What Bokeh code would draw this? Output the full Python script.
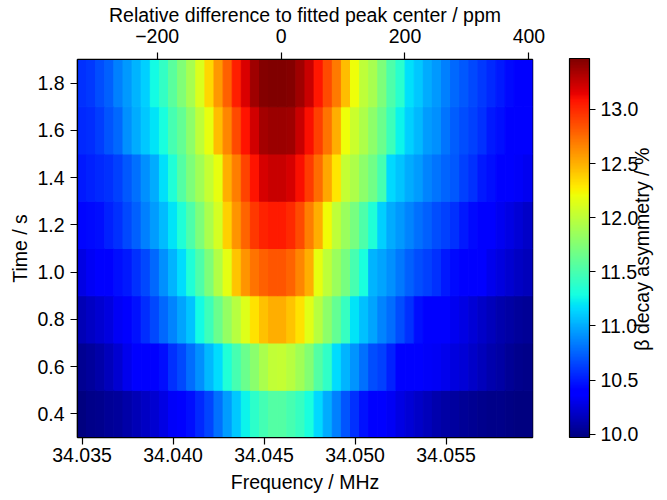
import math
import numpy as np
from bokeh.plotting import figure
from bokeh.models import (ColumnDataSource, LinearColorMapper, ColorBar, LinearAxis,
                          Range1d, FixedTicker, PrintfTickFormatter)
from bokeh.transform import transform
from bokeh.embed import file_html
from bokeh.resources import INLINE

# ---------------- data ----------------
freqs = [34.0350, 34.0355, 34.0360, 34.0365, 34.0370, 34.0375, 34.0380, 34.0385, 34.0390, 34.0395,
         34.0400, 34.0405, 34.0410, 34.0415, 34.0420, 34.0425, 34.0430, 34.0435, 34.0440, 34.0445,
         34.0450, 34.0455, 34.0460, 34.0465, 34.0470, 34.0475, 34.0480, 34.0485, 34.0490, 34.0495,
         34.0500, 34.0505, 34.0510, 34.0515, 34.0520, 34.0525, 34.0530, 34.0535, 34.0540, 34.0545,
         34.0550, 34.0555, 34.0560, 34.0565, 34.0570, 34.0575, 34.0580, 34.0585, 34.0590, 34.0595]
freq_step = 0.0005
times = [0.4, 0.6, 0.8, 1.0, 1.2, 1.4, 1.6, 1.8]
time_step = 0.2
peak_center = 34.045934  # MHz, fitted peak centre (0 ppm)

row_04 = [9.98, 10.00, 10.02, 10.04, 10.06, 10.10, 10.14, 10.18, 10.22, 10.28,
          10.35, 10.40, 10.45, 10.55, 10.65, 10.80, 10.95, 11.10, 11.25, 11.38,
          11.48, 11.55, 11.55, 11.50, 11.42, 11.30, 11.15, 11.00, 10.85, 10.70,
          10.58, 10.47, 10.42, 10.38, 10.33, 10.28, 10.23, 10.19, 10.15, 10.12,
          10.09, 10.07, 10.05, 10.03, 10.02, 10.01, 10.00, 9.99, 9.98, 9.98]
row_06 = [10.03, 10.06, 10.10, 10.16, 10.22, 10.30, 10.36, 10.41, 10.42, 10.45,
          10.58, 10.66, 10.78, 10.90, 11.04, 11.17, 11.33, 11.50, 11.65, 11.78,
          11.92, 12.02, 12.03, 11.97, 11.88, 11.76, 11.55, 11.40, 11.17, 11.03,
          10.92, 10.80, 10.68, 10.63, 10.52, 10.42, 10.40, 10.38, 10.35, 10.33,
          10.30, 10.27, 10.23, 10.20, 10.16, 10.12, 10.08, 10.05, 10.02, 10.00]
row_08 = [10.14, 10.18, 10.22, 10.27, 10.33, 10.40, 10.47, 10.56, 10.66, 10.77,
          10.87, 10.97, 11.08, 11.28, 11.46, 11.65, 11.82, 11.97, 12.14, 12.32,
          12.44, 12.50, 12.50, 12.43, 12.31, 12.15, 11.97, 11.80, 11.62, 11.43,
          11.20, 11.07, 10.97, 10.86, 10.78, 10.67, 10.58, 10.46, 10.42, 10.40,
          10.36, 10.32, 10.28, 10.24, 10.20, 10.16, 10.12, 10.09, 10.06, 10.04]
row_10 = [10.28, 10.33, 10.38, 10.42, 10.45, 10.50, 10.58, 10.66, 10.77, 10.90,
          11.03, 11.17, 11.33, 11.52, 11.72, 11.95, 12.16, 12.42, 12.60, 12.72,
          12.80, 12.83, 12.83, 12.78, 12.65, 12.50, 12.18, 12.00, 11.85, 11.70,
          11.50, 11.30, 11.03, 10.98, 10.90, 10.82, 10.74, 10.68, 10.63, 10.58,
          10.50, 10.44, 10.42, 10.40, 10.36, 10.30, 10.26, 10.22, 10.18, 10.15]
row_12 = [10.43, 10.44, 10.46, 10.52, 10.58, 10.66, 10.74, 10.85, 10.95, 11.06,
          11.20, 11.33, 11.52, 11.72, 11.92, 12.10, 12.38, 12.60, 12.78, 12.95,
          13.03, 13.05, 13.05, 13.00, 12.87, 12.68, 12.50, 12.22, 12.00, 11.85,
          11.70, 11.52, 11.33, 11.12, 11.00, 10.93, 10.87, 10.80, 10.74, 10.68,
          10.63, 10.58, 10.50, 10.44, 10.41, 10.36, 10.32, 10.28, 10.24, 10.20]
row_14 = [10.50, 10.52, 10.55, 10.58, 10.63, 10.72, 10.80, 10.90, 11.00, 11.18,
          11.33, 11.55, 11.73, 11.88, 12.03, 12.18, 12.50, 12.68, 12.90, 13.08,
          13.20, 13.25, 13.25, 13.20, 13.10, 12.93, 12.75, 12.53, 12.30, 12.03,
          11.93, 11.80, 11.67, 11.50, 11.15, 11.08, 11.00, 10.95, 10.87, 10.81,
          10.76, 10.72, 10.63, 10.58, 10.50, 10.45, 10.41, 10.38, 10.35, 10.32]
row_16 = [10.55, 10.57, 10.62, 10.70, 10.77, 10.90, 11.00, 11.10, 11.20, 11.30,
          11.50, 11.62, 11.80, 12.00, 12.18, 12.45, 12.66, 12.88, 13.08, 13.22,
          13.35, 13.38, 13.38, 13.37, 13.25, 13.10, 12.92, 12.72, 12.50, 12.20,
          12.05, 11.93, 11.80, 11.65, 11.45, 11.25, 11.12, 11.04, 10.95, 10.90,
          10.81, 10.73, 10.68, 10.63, 10.58, 10.50, 10.45, 10.40, 10.38, 10.36]
row_18 = [10.58, 10.60, 10.67, 10.74, 10.85, 10.94, 11.03, 11.12, 11.27, 11.41,
          11.58, 11.74, 11.90, 12.12, 12.35, 12.59, 12.79, 13.04, 13.19, 13.37,
          13.45, 13.47, 13.47, 13.45, 13.37, 13.25, 13.07, 12.87, 12.70, 12.45,
          12.20, 12.00, 11.90, 11.73, 11.52, 11.37, 11.18, 11.10, 11.00, 10.93,
          10.85, 10.77, 10.72, 10.66, 10.60, 10.55, 10.49, 10.44, 10.41, 10.40]
asym_rows = [row_04, row_06, row_08, row_10, row_12, row_14, row_16, row_18]

freq_ticks = [34.035, 34.040, 34.045, 34.050, 34.055]
time_ticks = [0.4, 0.6, 0.8, 1.0, 1.2, 1.4, 1.6, 1.8]
ppm_ticks = [-200, 0, 200, 400]
cbar_ticks = [10.0, 10.5, 11.0, 11.5, 12.0, 12.5, 13.0]
cbar_low, cbar_high = 9.97, 13.47
cbar_title = "\u03b2 decay asymmetry / %"

# ---------------- jet palette ----------------
def jet_palette(n=256):
    t = np.linspace(0, 1, n)
    r = np.interp(t, [0, 0.35, 0.66, 0.89, 1], [0, 0, 1, 1, 0.5])
    g = np.interp(t, [0, 0.125, 0.375, 0.64, 0.91, 1], [0, 0, 1, 1, 0, 0])
    b = np.interp(t, [0, 0.11, 0.34, 0.65, 1], [0.5, 1, 1, 0, 0])
    return ["#%02x%02x%02x" % (int(round(rr * 255)), int(round(gg * 255)), int(round(bb * 255)))
            for rr, gg, bb in zip(r, g, b)]

palette = jet_palette()

l, r_, b_, t_, vs = [], [], [], [], []
for t, row in zip(times, asym_rows):
    for f, v in zip(freqs, row):
        l.append(f - freq_step / 2)
        r_.append(f + freq_step / 2)
        b_.append(t - time_step / 2)
        t_.append(t + time_step / 2)
        vs.append(v)
source = ColumnDataSource(dict(left=l, right=r_, bottom=b_, top=t_, v=vs))

x_lo = freqs[0] - freq_step / 2
x_hi = freqs[-1] + freq_step / 2
y_lo = times[0] - time_step / 2
y_hi = times[-1] + time_step / 2

FONT = "Liberation Sans"
FS = "19.5px"
FRAME_W, FRAME_H = 456, 379

p = figure(width=667, height=500, x_range=Range1d(x_lo, x_hi), y_range=Range1d(y_lo, y_hi),
           output_backend="svg", toolbar_location=None,
           min_border_left=77, min_border_right=134, min_border_top=58, min_border_bottom=63)
p.grid.visible = False
p.outline_line_color = "black"
p.outline_line_width = 1.5
p.background_fill_color = "white"
p.border_fill_color = "white"

mapper = LinearColorMapper(palette=palette, low=cbar_low, high=cbar_high)
p.quad(left="left", right="right", bottom="bottom", top="top", source=source,
       fill_color=transform("v", mapper), line_color=transform("v", mapper), line_width=1.0)

def style_axis(ax, standoff, label_standoff):
    ax.axis_label_text_font = FONT
    ax.axis_label_text_font_size = FS
    ax.axis_label_text_font_style = "normal"
    ax.axis_label_text_color = "black"
    ax.major_label_text_font = FONT
    ax.major_label_text_font_size = FS
    ax.major_label_text_color = "black"
    ax.major_tick_out = 7
    ax.major_tick_in = 0
    ax.minor_tick_out = 0
    ax.minor_tick_in = 0
    ax.major_tick_line_color = "black"
    ax.major_tick_line_width = 1.2
    ax.axis_line_color = "black"
    ax.axis_line_width = 1.2
    ax.major_label_standoff = standoff
    ax.axis_label_standoff = label_standoff

xa = p.xaxis[0]
xa.ticker = FixedTicker(ticks=freq_ticks)
xa.formatter = PrintfTickFormatter(format="%.3f")
xa.axis_label = "Frequency / MHz"
style_axis(xa, 3, 6)

ya = p.yaxis[0]
ya.ticker = FixedTicker(ticks=time_ticks)
ya.formatter = PrintfTickFormatter(format="%.1f")
ya.axis_label = "Time / s"
style_axis(ya, 6, 3)

ppm_lo = (x_lo - peak_center) / peak_center * 1e6
ppm_hi = (x_hi - peak_center) / peak_center * 1e6
p.extra_x_ranges = {"ppm": Range1d(ppm_lo, ppm_hi)}
top = LinearAxis(x_range_name="ppm", ticker=FixedTicker(ticks=ppm_ticks),
                 axis_label="Relative difference to fitted peak center / ppm",
                 major_label_overrides={t: (("\u2212%d" % -t) if t < 0 else "%d" % t) for t in ppm_ticks})
style_axis(top, 10, 0)
p.add_layout(top, "above")

cb = ColorBar(color_mapper=mapper, location=(492, 0), width=20, height=FRAME_H,
              padding=0, margin=0,
              ticker=FixedTicker(ticks=cbar_ticks), formatter=PrintfTickFormatter(format="%.1f"),
              major_label_text_font=FONT, major_label_text_font_size=FS,
              major_label_text_color="black",
              major_tick_out=6, major_tick_in=0, major_tick_line_color="black",
              major_tick_line_width=1.2, minor_tick_line_color=None,
              bar_line_color="black", bar_line_width=1.2,
              background_fill_alpha=0, border_line_color=None, label_standoff=5)
p.add_layout(cb, "center")

# right-hand axis whose single rotated tick label is the colour-bar title;
# the label starts at its tick, so the tick sits half a label length below centre
title_len_px = 205
title_start_y = (y_lo + y_hi) / 2 - (title_len_px / 2) / FRAME_H * (y_hi - y_lo)
cb_title_axis = LinearAxis(ticker=FixedTicker(ticks=[title_start_y]),
                           major_label_overrides={title_start_y: cbar_title},
                           major_label_orientation=math.pi / 2,
                           axis_line_color=None, major_tick_line_color=None,
                           major_tick_out=0, major_tick_in=0,
                           minor_tick_line_color=None, minor_tick_out=0, minor_tick_in=0,
                           major_label_text_font=FONT, major_label_text_font_size=FS,
                           major_label_text_color="black",
                           major_label_standoff=110)
p.add_layout(cb_title_axis, "right")

open("out.html", "w").write(file_html(p, INLINE))
